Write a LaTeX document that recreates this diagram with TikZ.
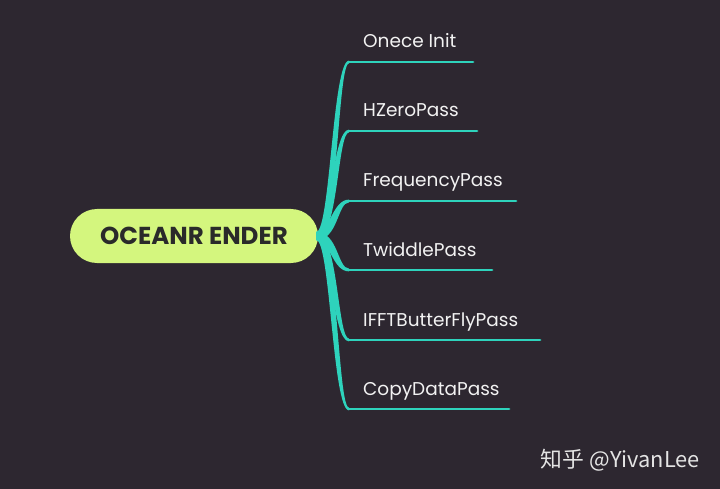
\documentclass[tikz,border=0pt]{standalone}
\usepackage{fontspec}
\setmainfont{Poppins}
\newfontfamily\cjkfont{Noto Sans CJK SC}
\usetikzlibrary{calc,positioning}
\definecolor{MBack}{HTML}{2D2730}
\definecolor{MLime}{HTML}{D4F67E}
\definecolor{MTeal}{HTML}{2ED3BC}
\definecolor{MInk}{HTML}{2A2A2A}
\definecolor{MWhite}{HTML}{F2F2F2}
\definecolor{MGrey}{HTML}{E4E4E4}
\tikzset{
  rootnode/.style={rectangle,rounded corners=27pt,fill=MLime,
                   minimum width=248pt,minimum height=54pt,inner sep=0pt,
                   text=MInk,font=\fontsize{24.5}{27}\selectfont\bfseries},
  passlabel/.style={anchor=base west,inner sep=0pt,text=MWhite,
                    font=\fontsize{18.5}{21}\selectfont},
  twig/.style={draw=MTeal,line width=2.8pt,line cap=round},
}

\begin{document}
\begin{tikzpicture}[x=1pt,y=-1pt]
  \fill[MBack] (0,0) rectangle (720,489);
  \useasboundingbox (0,0) rectangle (720,489);
  \node[rootnode] (render) at (194,236) {OCEANR ENDER};
  \coordinate (hub) at ($(render.east)+(-2,0)$);
  % one branch per pass: y of underline / end of underline / direction
  \foreach \i/\y/\xend/\s/\txt in {1/62/473/1/Onece Init,
                                   2/131/477/1/HZeroPass,
                                   3/201/516/1/FrequencyPass,
                                   4/270/492/-1/TwiddlePass,
                                   5/340/540/-1/IFFTButterFlyPass,
                                   6/409/509/-1/CopyDataPass}{
    \coordinate (bend\i) at (349,\y);
    \coordinate (tip\i) at (\xend,\y);
    \node[passlabel] (pass\i) at (363,\y-14) {\txt};
    % tapered stem
    \fill[MTeal] ($(hub)+(0,-4)$)
        .. controls ($(hub)+(18-4*\s,-4)$) and ($(bend\i)+(-14-2.5*\s,-1.4)$)
        .. ($(bend\i)+(0,-1.4)$) -- ($(bend\i)+(0,1.4)$)
        .. controls ($(bend\i)+(-14+2.5*\s,1.4)$) and ($(hub)+(18+4*\s,4)$)
        .. ($(hub)+(0,4)$) -- cycle;
    \draw[twig] (bend\i) -- (tip\i);
  }
  \node[anchor=base east,inner sep=0pt,text=MGrey,
        font=\fontsize{21.8}{24}\selectfont\cjkfont] (mark) at (700,467)
        {知乎 @YivanLee};
\end{tikzpicture}
\end{document}
